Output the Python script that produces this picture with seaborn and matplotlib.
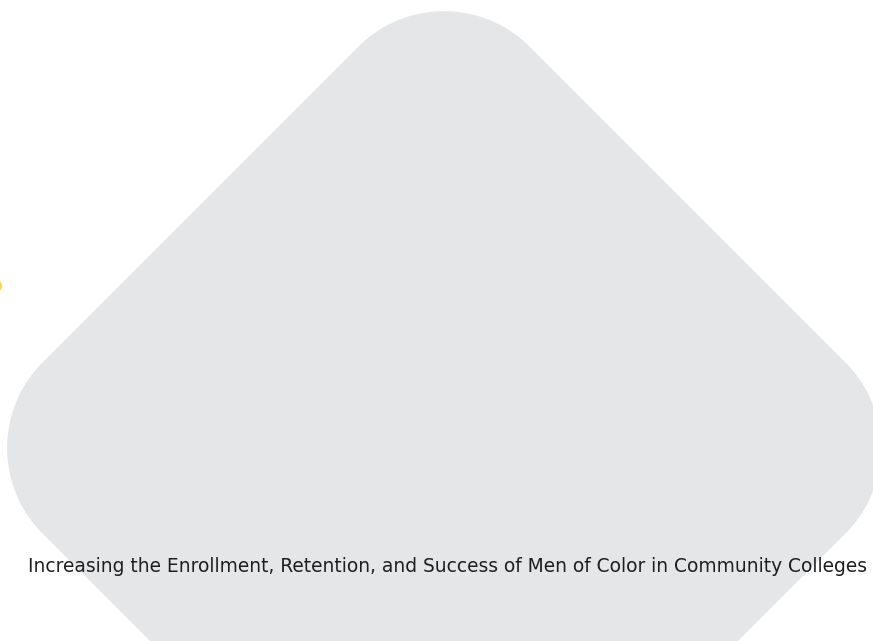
import numpy as np
import matplotlib
matplotlib.use('Agg')
from matplotlib import pyplot as plt
import seaborn as sns

# canvas in pixel units (same as the reference picture)
width_px, height_px = 873, 641

# rotated rounded square (diamond) behind the caption
diamond_center = (444, 448)
diamond_half_diag = 487
diamond_corner_radius = 121
diamond_color = '#e5e6e8'

# small yellow dot mostly outside the left edge
dot_center = (-5, 286)
dot_radius = 7
dot_color = '#f6d35b'

caption = 'Increasing the Enrollment, Retention, and Success of Men of Color in Community Colleges'
caption_left, caption_right, caption_baseline = 28, 865, 572


def rounded_diamond(center, half_diag, radius, n=40):
    # rounded square in local coords, then rotate by 45 degrees
    half_side = half_diag / np.sqrt(2)
    c = half_side - radius
    pts = []
    for (cx, cy, a0) in [(c, c, 0), (-c, c, 90), (-c, -c, 180), (c, -c, 270)]:
        t = np.radians(np.linspace(a0, a0 + 90, n))
        pts.append(np.column_stack([cx + radius * np.cos(t), cy + radius * np.sin(t)]))
    pts = np.vstack(pts)
    rot = np.radians(45)
    R = np.array([[np.cos(rot), -np.sin(rot)], [np.sin(rot), np.cos(rot)]])
    pts = pts @ R.T
    return pts[:, 0] + center[0], pts[:, 1] + center[1]


sns.set_style('white')
plt.rcParams['font.family'] = ['DejaVu Sans']

fig = plt.figure(figsize=(width_px / 100, height_px / 100), dpi=100)
ax = fig.add_axes([0, 0, 1, 1])
ax.set_xlim(0, width_px)
ax.set_ylim(height_px, 0)
ax.axis('off')

xs, ys = rounded_diamond(diamond_center, diamond_half_diag, diamond_corner_radius)
ax.fill(xs, ys, color=diamond_color, lw=0)

t = np.linspace(0, 2 * np.pi, 60)
ax.fill(dot_center[0] + dot_radius * np.cos(t), dot_center[1] + dot_radius * np.sin(t),
        color=dot_color, lw=0)

txt = ax.text(caption_left, caption_baseline, caption, fontsize=12, color='#1e1e1e',
              ha='left', va='baseline')

# fit caption width to the reference span
fig.canvas.draw()
bb = txt.get_window_extent()
txt.set_fontsize(12 * (caption_right - caption_left) / bb.width)

fig.savefig('out.png', dpi=100)
